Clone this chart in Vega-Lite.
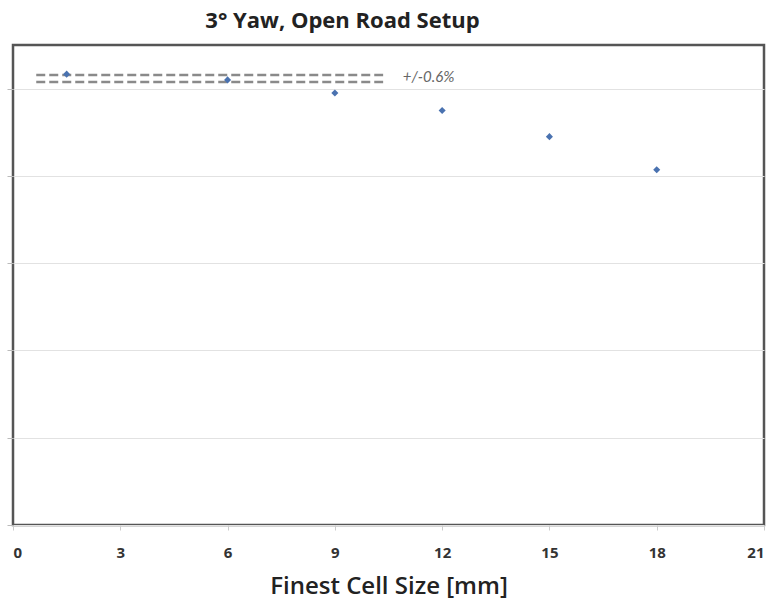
{
  "$schema": "https://vega.github.io/schema/vega-lite/v6.json",
  "width": 751,
  "height": 480,
  "autosize": "none",
  "padding": {"left": 13, "top": 45, "right": 12, "bottom": 88},
  "background": "white",
  "config": {
    "view": {"stroke": "#555555", "strokeWidth": 2.5},
    "font": "Open Sans"
  },
  "title": {
    "text": "3° Yaw, Open Road Setup",
    "font": "Open Sans",
    "fontSize": 22,
    "fontWeight": "bold",
    "color": "#222222",
    "anchor": "middle",
    "dx": -46,
    "offset": 12
  },
  "datasets": {
    "points": [
      {"cell": 1.5, "value": 5.166},
      {"cell": 6, "value": 5.10},
      {"cell": 9, "value": 4.95},
      {"cell": 12, "value": 4.75},
      {"cell": 15, "value": 4.45},
      {"cell": 18, "value": 4.07}
    ],
    "band": [
      {"start": 0.65, "end": 10.35, "value": 5.157},
      {"start": 0.65, "end": 10.35, "value": 5.077}
    ],
    "label": [
      {"cell": 10.9, "value": 5.13, "text": "+/-0.6%"}
    ]
  },
  "layer": [
    {
      "data": {"name": "band"},
      "mark": {"type": "rule", "strokeDash": [9, 4], "color": "#8a8a8a", "strokeWidth": 2.5},
      "encoding": {
        "x": {
          "field": "start", "type": "quantitative",
          "scale": {"domain": [0, 21], "nice": false},
          "axis": {
            "values": [0, 3, 6, 9, 12, 15, 18, 21],
            "title": "Finest Cell Size [mm]",
            "titleFont": "Open Sans",
            "titleFontSize": 24,
            "titleFontWeight": 600,
            "titleColor": "#222222",
            "titlePadding": 14,
            "labelFont": "Open Sans",
            "labelFontSize": 15,
            "labelFontWeight": "bold",
            "labelColor": "#333333",
            "labelPadding": 15,
            "tickSize": 5,
            "tickColor": "#cccccc",
            "domain": false,
            "grid": false
          }
        },
        "x2": {"field": "end"},
        "y": {
          "field": "value", "type": "quantitative",
          "scale": {"domain": [0, 5.5], "nice": false},
          "axis": {
            "values": [0, 1, 2, 3, 4, 5],
            "title": null,
            "labels": false,
            "tickSize": 6,
            "tickColor": "#bbbbbb",
            "domain": false,
            "grid": true,
            "gridColor": "#e2e2e2",
            "gridWidth": 1
          }
        }
      }
    },
    {
      "data": {"name": "points"},
      "mark": {"type": "point", "shape": "diamond", "filled": true, "size": 50, "color": "#4a72b0", "opacity": 1},
      "encoding": {
        "x": {"field": "cell", "type": "quantitative"},
        "y": {"field": "value", "type": "quantitative"}
      }
    },
    {
      "data": {"name": "label"},
      "mark": {"type": "text", "align": "left", "baseline": "middle", "fontStyle": "italic", "fontSize": 15, "color": "#666666", "font": "Lato"},
      "encoding": {
        "x": {"field": "cell", "type": "quantitative"},
        "y": {"field": "value", "type": "quantitative"},
        "text": {"field": "text"}
      }
    }
  ]
}
